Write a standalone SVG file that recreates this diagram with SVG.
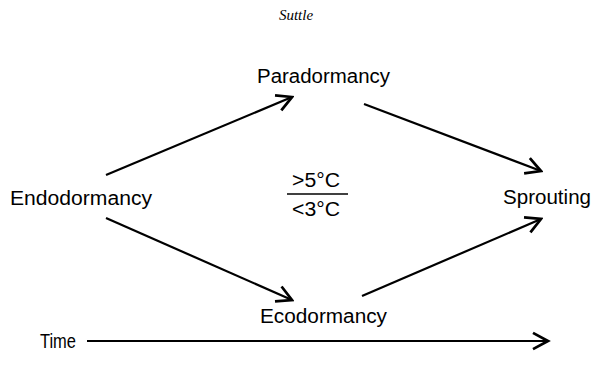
<svg xmlns="http://www.w3.org/2000/svg" width="592" height="380" viewBox="0 0 592 380">
<style>
.lbl{font-family:"Liberation Sans",Arial,sans-serif;font-size:20px;fill:#000}
.ttl{font-family:"Liberation Serif","Times New Roman",serif;font-size:15px;font-style:italic;fill:#000}
.edge{stroke:#000;stroke-width:2.2;fill:none;marker-end:url(#ah)}
</style>
<defs>
<marker id="ah" markerUnits="userSpaceOnUse" markerWidth="20" markerHeight="20" refX="14" refY="8" orient="auto" viewBox="0 0 16 16">
<path d="M2,1.5 L14,8 L2,14.5" fill="none" stroke="#000" stroke-width="2.2" stroke-linejoin="miter"/>
</marker>
</defs>
<rect width="592" height="380" fill="#fff"/>
<text class="ttl" x="296" y="20" text-anchor="middle">Suttle</text>
<g id="connectors">
<line class="edge" x1="106" y1="175" x2="292" y2="97"/>
<line class="edge" x1="364" y1="104" x2="541" y2="171"/>
<line class="edge" x1="106" y1="218" x2="292" y2="300"/>
<line class="edge" x1="362" y1="296" x2="541" y2="219"/>
<line class="edge" x1="87" y1="341" x2="548" y2="341"/>
</g>
<g id="paradormancy"><text class="lbl" x="257" y="83" textLength="133" lengthAdjust="spacingAndGlyphs">Paradormancy</text></g>
<g id="endodormancy"><text class="lbl" x="10" y="205" textLength="142" lengthAdjust="spacingAndGlyphs">Endodormancy</text></g>
<g id="sprouting"><text class="lbl" x="503" y="204" textLength="88" lengthAdjust="spacingAndGlyphs">Sprouting</text></g>
<g id="ecodormancy"><text class="lbl" x="260" y="323" textLength="127" lengthAdjust="spacingAndGlyphs">Ecodormancy</text></g>
<g id="temperature">
<text class="lbl" x="292" y="187" textLength="48" lengthAdjust="spacingAndGlyphs">&gt;5°C</text>
<line x1="287" y1="194" x2="348" y2="194" stroke="#000" stroke-width="1.6"/>
<text class="lbl" x="292" y="216" textLength="48" lengthAdjust="spacingAndGlyphs">&lt;3°C</text>
</g>
<g id="time"><text class="lbl" x="40" y="348" textLength="36" lengthAdjust="spacingAndGlyphs">Time</text></g>
</svg>
